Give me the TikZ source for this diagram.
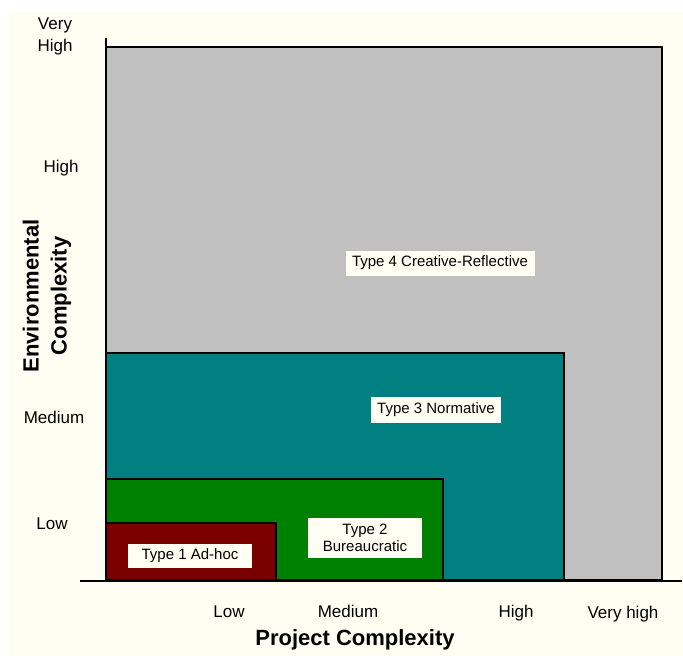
\documentclass[tikz,border=0pt]{standalone}
\usepackage{fontspec}
\setmainfont{Liberation Sans}
\definecolor{cream}{HTML}{FFFEF2}
\definecolor{lblbg}{HTML}{FFFFF4}
\definecolor{gry}{HTML}{C0C0C0}
\definecolor{tealc}{HTML}{008080}
\definecolor{grn}{HTML}{008000}
\definecolor{drd}{HTML}{7A0000}
\tikzset{
  zone/.style={draw=black, line width=1.5pt},
  lbl/.style={fill=lblbg, inner sep=0pt, align=center, font=\fontsize{15}{17}\selectfont},
  tick/.style={inner sep=0pt, align=center, font=\fontsize{17}{22}\selectfont},
  axtitle/.style={inner sep=0pt, align=center, font=\fontsize{22}{28}\selectfont\bfseries},
}
\begin{document}
\begin{tikzpicture}[x=1pt,y=-1pt]
\useasboundingbox (0,0) rectangle (683,656);
\fill[white] (0,0) rectangle (683,656);
\fill[cream] (9,12) rectangle (683,656);
% zones
\draw[zone, fill=gry] (106,580) rectangle (662,47);
\draw[zone, fill=tealc] (106,580) rectangle (564,353);
\draw[zone, fill=grn] (106,580) rectangle (443,479);
\draw[zone, fill=drd] (106,580) rectangle (276,523);
% axes
\coordinate (yt) at (106,38);
\coordinate (yb) at (106,581);
\coordinate (xl) at (80,581);
\coordinate (xr) at (682,581);
\draw[line width=1.5pt] (yt) -- (yb);
\draw[line width=1.5pt] (xl) -- (xr);
% zone labels
\node[lbl, minimum width=124, minimum height=24] (t1) at (190,556) {Type 1 Ad-hoc};
\node[lbl, minimum width=114, minimum height=40] (t2) at (365,538) {Type 2\\Bureaucratic};
\node[lbl, minimum width=130, minimum height=26] (t3) at (436,410) {Type 3 Normative};
\node[lbl, minimum width=189, minimum height=25] (t4) at (440,263) {Type 4 Creative-Reflective};
% y ticks
\node[tick] (yvh) at (55,36) {Very\\High};
\node[tick] (yh) at (61,168) {High};
\node[tick] (ym) at (54,417) {Medium};
\node[tick] (yl) at (52,524) {Low};
% x ticks
\node[tick] (xlo) at (229,612) {Low};
\node[tick] (xme) at (348,611) {Medium};
\node[tick] (xhi) at (516,613) {High};
\node[tick] (xvh) at (623,614) {Very high};
% titles
\node[axtitle] (xt) at (355,640) {Project Complexity};
\node[axtitle, rotate=90] (yttl) at (47,296) {Environmental\\Complexity};
\end{tikzpicture}
\end{document}
